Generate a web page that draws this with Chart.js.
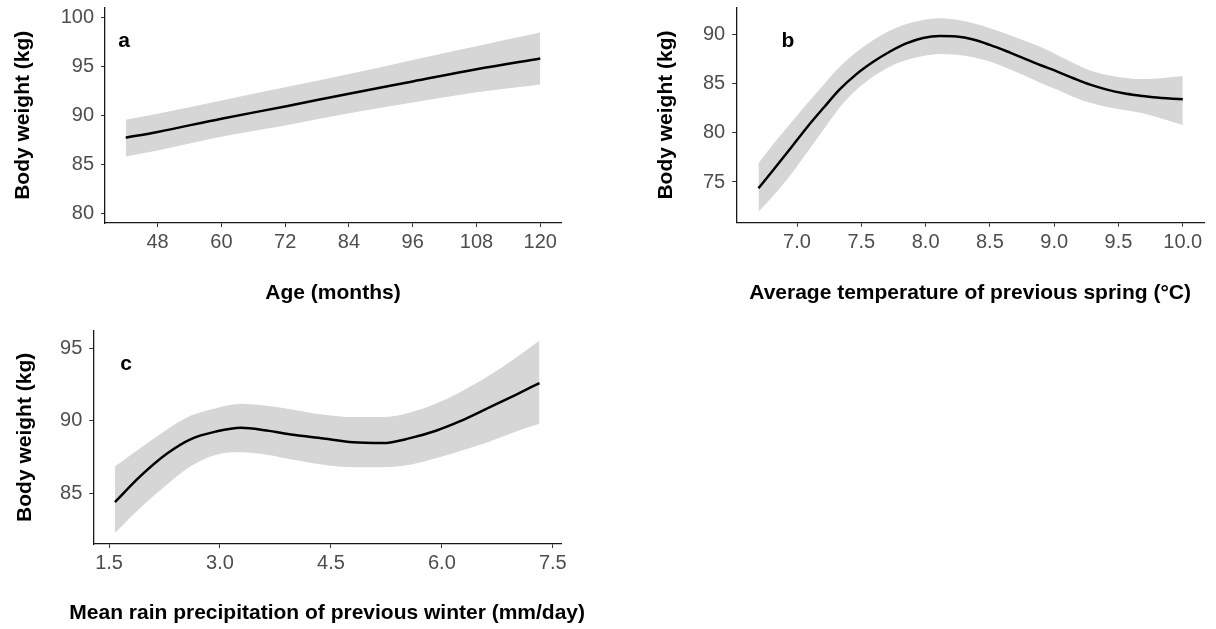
<!DOCTYPE html>
<html>
<head>
<meta charset="utf-8">
<script src="https://cdn.jsdelivr.net/npm/chart.js@4.4.0/dist/chart.umd.min.js"></script>
<style>
    body { margin: 0; background: #fff; width: 1216px; height: 629px; position: relative; overflow: hidden; }
    canvas { position: absolute; }
</style>
</head>
<body>
<canvas id="panelA" width="600" height="310" style="left:0px;top:0px"></canvas>
<canvas id="panelB" width="576" height="310" style="left:640px;top:0px"></canvas>
<canvas id="panelC" width="600" height="309" style="left:0px;top:320px"></canvas>
<script>
// panel a - age
const ageMonths = [42, 48, 60, 72, 84, 96, 108, 120];
const ageFit    = [87.7, 88.3, 89.65, 90.9, 92.2, 93.45, 94.7, 95.8];
const ageUpper  = [89.55, 90.15, 91.5, 92.85, 94.2, 95.65, 97.05, 98.45];
const ageLower  = [85.8, 86.4, 87.8, 88.95, 90.2, 91.3, 92.35, 93.15];
const ageXTicks = [48, 60, 72, 84, 96, 108, 120];
const ageYTicks = [80, 85, 90, 95, 100];

// panel b - spring temperature
const springTemp  = [6.70, 6.82, 6.95, 7.08, 7.21, 7.33, 7.46, 7.59, 7.72, 7.85, 7.98, 8.11, 8.24,
                     8.37, 8.50, 8.63, 8.76, 8.89, 9.02, 9.15, 9.28, 9.41, 9.54, 9.67, 9.77, 10.0];
const springFit   = [74.36, 76.29, 78.43, 80.6, 82.6, 84.4, 85.95, 87.2, 88.25, 89.1, 89.65, 89.85, 89.8,
                     89.5, 88.95, 88.3, 87.6, 86.9, 86.25, 85.55, 84.9, 84.4, 84.03, 83.78, 83.61, 83.41];
const springUpper = [76.9, 78.93, 80.97, 83.0, 84.95, 86.7, 88.2, 89.42, 90.39, 91.07, 91.47, 91.65, 91.5,
                     91.15, 90.65, 90.05, 89.42, 88.75, 87.95, 87.1, 86.35, 85.88, 85.61, 85.48, 85.5, 85.78];
const springLower = [71.98, 73.68, 75.71, 78.05, 80.4, 82.55, 84.35, 85.7, 86.73, 87.41, 87.81, 88.02, 87.95,
                     87.7, 87.25, 86.6, 85.88, 85.1, 84.4, 83.65, 83.05, 82.62, 82.32, 82.05, 81.71, 80.8];
const springXTicks = [7.0, 7.5, 8.0, 8.5, 9.0, 9.5, 10.0];
const springYTicks = [75, 80, 85, 90];

// panel c - winter rain
const winterRain  = [1.58, 1.92, 2.28, 2.6, 2.95, 3.28, 3.63, 3.99, 4.4, 4.8, 5.2, 5.57, 5.93, 6.24, 6.65, 7.0, 7.32];
const winterFit   = [84.39, 86.16, 87.72, 88.72, 89.26, 89.52, 89.33, 89.03, 88.78, 88.51, 88.46, 88.8, 89.33, 89.95, 90.94, 91.79, 92.6];
const winterUpper = [86.85, 88.11, 89.38, 90.34, 90.87, 91.17, 91.03, 90.76, 90.41, 90.25, 90.25, 90.57, 91.21, 91.95, 93.15, 94.35, 95.54];
const winterLower = [82.26, 83.98, 85.59, 86.85, 87.66, 87.82, 87.66, 87.31, 86.97, 86.8, 86.8, 86.97, 87.43, 87.89, 88.57, 89.26, 89.8];
const winterXTicks = [1.5, 3.0, 4.5, 6.0, 7.5];
const winterYTicks = [85, 90, 95];

Chart.defaults.font.family = '"Liberation Sans", Arial, sans-serif';
Chart.defaults.animation = false;

const BOLD_FONT = 'bold 21px "Liberation Sans", Arial, sans-serif';

// letter a/b/c in the top left corner, placed through the scales
const panelLetter = {
    id: 'panelLetter',
    afterDatasetsDraw(chart, args, opts) {
        const ctx = chart.ctx;
        ctx.save();
        ctx.font = BOLD_FONT;
        ctx.fillStyle = '#000';
        ctx.textAlign = 'center';
        ctx.textBaseline = 'middle';
        ctx.fillText(opts.text, chart.scales.x.getPixelForValue(opts.x), chart.scales.y.getPixelForValue(opts.y));
        ctx.restore();
    }
};

// x axis title drawn by hand - the built-in one gets squeezed to the axis width
const xAxisTitle = {
    id: 'xAxisTitle',
    afterDraw(chart, args, opts) {
        const ctx = chart.ctx;
        const area = chart.chartArea;
        ctx.save();
        ctx.font = BOLD_FONT;
        ctx.fillStyle = '#000';
        ctx.textAlign = 'center';
        ctx.textBaseline = 'middle';
        ctx.fillText(opts.text, (area.left + area.right) / 2, chart.height - opts.bottom);
        ctx.restore();
    }
};

function toPoints(xs, ys) {
    return xs.map((x, i) => ({ x: x, y: ys[i] }));
}

function makePanel(id, p) {
    const tickFont = { size: 20 };
    const titleFont = { size: 21, weight: 'bold', lineHeight: 1.2 };
    const gridOpts = { display: true, drawOnChartArea: false, drawTicks: true, tickLength: 4, color: '#333' };
    const borderOpts = { display: true, color: '#1a1a1a', width: 1.3 };

    return new Chart(document.getElementById(id), {
        type: 'line',
        data: {
            datasets: [{
                data: toPoints(p.xs, p.fit),
                borderColor: '#000',
                borderWidth: 2.5,
                pointRadius: 0,
                cubicInterpolationMode: 'monotone',
                fill: false
            }, {
                data: toPoints(p.xs, p.lower),
                borderColor: 'rgba(0,0,0,0)',
                borderWidth: 0,
                pointRadius: 0,
                cubicInterpolationMode: 'monotone',
                fill: false
            }, {
                data: toPoints(p.xs, p.upper),
                borderColor: 'rgba(0,0,0,0)',
                borderWidth: 0,
                pointRadius: 0,
                cubicInterpolationMode: 'monotone',
                backgroundColor: '#d6d6d6',
                fill: '-1'
            }]
        },
        options: {
            responsive: false,
            devicePixelRatio: 1,
            events: [],
            layout: { padding: { top: p.top, right: p.right, bottom: 0, left: 0 } },
            plugins: {
                legend: { display: false },
                tooltip: { enabled: false },
                panelLetter: p.letter,
                xAxisTitle: { text: p.xTitle, bottom: p.xTitleBottom }
            },
            scales: {
                x: {
                    type: 'linear',
                    min: p.xMin,
                    max: p.xMax,
                    grid: gridOpts,
                    border: borderOpts,
                    ticks: {
                        color: '#4d4d4d',
                        font: tickFont,
                        padding: 3.5,
                        maxRotation: 0,
                        callback: p.xFormat
                    },
                    afterBuildTicks: s => { s.ticks = p.xTicks.map(v => ({ value: v })); },
                    afterFit: s => { s.height = p.xHeight; s.paddingLeft = 0; s.paddingRight = 0; },
                    title: { display: false }
                },
                y: {
                    min: p.yMin,
                    max: p.yMax,
                    grid: gridOpts,
                    border: borderOpts,
                    ticks: { color: '#4d4d4d', font: tickFont, padding: 7 },
                    afterBuildTicks: s => { s.ticks = p.yTicks.map(v => ({ value: v })); },
                    afterFit: s => { s.width = p.yWidth; s.paddingTop = 0; s.paddingBottom = 0; },
                    title: { display: true, text: 'Body weight (kg)', color: '#000', font: titleFont, padding: { top: p.yTitlePad, bottom: 0 } }
                }
            }
        },
        plugins: [panelLetter, xAxisTitle]
    });
}

makePanel('panelA', {
    xs: ageMonths, fit: ageFit, upper: ageUpper, lower: ageLower,
    xTicks: ageXTicks, yTicks: ageYTicks,
    xMin: 38.1, xMax: 123.9, yMin: 79, yMax: 101,
    xFormat: v => String(v),
    xTitle: 'Age (months)',
    top: 7.5, right: 39, yWidth: 105, xHeight: 87,
    xTitleBottom: 16.7, yTitlePad: 10.7,
    letter: { text: 'a', x: 41.7, y: 97.55 }
});

makePanel('panelB', {
    xs: springTemp, fit: springFit, upper: springUpper, lower: springLower,
    xTicks: springXTicks, yTicks: springYTicks,
    xMin: 6.527, xMax: 10.165, yMin: 70.86, yMax: 92.77,
    xFormat: v => v.toFixed(1),
    xTitle: 'Average temperature of previous spring (°C)',
    top: 7.3, right: 12, yWidth: 96.2, xHeight: 87.3,
    xTitleBottom: 16.7, yTitlePad: 14,
    letter: { text: 'b', x: 6.93, y: 89.36 }
});

makePanel('panelC', {
    xs: winterRain, fit: winterFit, upper: winterUpper, lower: winterLower,
    xTicks: winterXTicks, yTicks: winterYTicks,
    xMin: 1.287, xMax: 7.611, yMin: 81.5, yMax: 96.21,
    xFormat: v => v.toFixed(1),
    xTitle: 'Mean rain precipitation of previous winter (mm/day)',
    top: 10.7, right: 39, yWidth: 93.3, xHeight: 85,
    xTitleBottom: 15.7, yTitlePad: 12.4,
    letter: { text: 'c', x: 1.73, y: 93.92 }
});
</script>
</body>
</html>
